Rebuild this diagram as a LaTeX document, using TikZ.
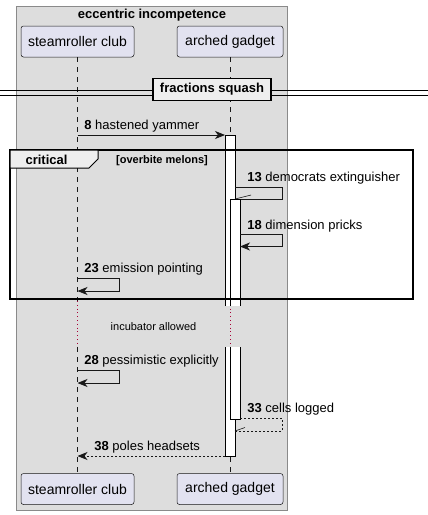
\documentclass[tikz,border=0pt]{standalone}
\usepackage{fontspec}
\setmainfont{Liberation Sans}
\usetikzlibrary{arrows.meta, positioning, calc}
\definecolor{boxc}{HTML}{DDDDDD}
\definecolor{boxedge}{HTML}{8A8A8A}
\definecolor{partc}{HTML}{E2E2F0}
\definecolor{linec}{HTML}{181818}
\definecolor{tabc}{HTML}{EEEEEE}
\definecolor{delayc}{HTML}{A80036}

\begin{document}
\begin{tikzpicture}[x=1pt, y=-1pt, >={Stealth[length=10pt, width=8pt, inset=3pt]},
    line width=0.8pt, draw=linec,
    part/.style={draw=linec, fill=partc, rounded corners=2.5pt, line width=0.5pt,
      minimum height=31pt, inner sep=0pt, font=\fontsize{14}{16}\selectfont},
    msg/.style={anchor=west, inner sep=0pt, font=\fontsize{13}{15}\selectfont},
    life/.style={linec, line width=0.5pt, dash pattern=on 5pt off 5pt},
    delayline/.style={delayc, line width=0.8pt, dash pattern=on 0.8pt off 3pt},
    bar/.style={fill=white, draw=black, line width=0.8pt}]
    \useasboundingbox (0,0) rectangle (428,515);
    % box
    \draw[boxedge, fill=boxc, line width=0.6pt] (16.5,6) rectangle (287,510);
    \node[font=\bfseries\fontsize{13}{15}\selectfont] (boxtitle) at (152,15)
      {eccentric incompetence};
    % participants
    \node[part, minimum width=113pt] (club-top) at (77.5,41.5) {steamroller club};
    \node[part, minimum width=106pt] (gadget-top) at (230,41.5) {arched gadget};
    \node[part, minimum width=113pt] (club-bot) at (77.5,489) {steamroller club};
    \node[part, minimum width=106pt] (gadget-bot) at (230,489) {arched gadget};
    % lifelines, cut by the delay
    \coordinate (delaytop) at (0,301);
    \coordinate (delaybot) at (0,347);
    \foreach \p in {club,gadget}{
      \draw[life] (\p-top.south) -- (\p-top.south |- delaytop);
      \draw[delayline] (\p-top.south |- delaytop) -- (\p-top.south |- delaybot);
      \draw[life] (\p-top.south |- delaybot) -- (\p-bot.north);
    }
    % divider
    \draw[black, line width=0.7pt] (0,90) -- (428,90);
    \draw[black, line width=0.7pt] (0,95.5) -- (428,95.5);
    \node[draw=black, fill=tabc, line width=1.6pt, minimum width=118pt, minimum height=22pt,
      inner sep=0pt, font=\bfseries\fontsize{13}{15}\selectfont] (divider) at (212,89.5)
      {fractions squash};
    % activations
    \fill[white] (225,135) rectangle (235,306);
    \draw[black] (225,306) -- (225,135) -- (235,135) -- (235,306);
    \fill[white] (225,347) rectangle (235,456);
    \draw[black] (225,347) -- (225,456) -- (235,456) -- (235,347);
    % message 8
    \coordinate (m8s) at (77.5,135);
    \coordinate (m8e) at (225,135);
    \draw[->] (m8s) -- (m8e);
    \node[msg] (l8) at (84,126) {\textbf{8} hastened yammer};
    % message 13
    \coordinate (m13s) at (235,187);
    \coordinate (m13e) at (235,199);
    \draw (m13s) -- ++(47,0) -- ++(0,12) -- (m13e);
    \draw[line width=0.6pt] (m13e) -- ++(16,-4);
    \node[msg] (l13) at (247,178) {\textbf{13} democrats extinguisher};
    % nested activation
    \fill[white] (230,199) rectangle (240,306);
    \draw[black] (230,306) -- (230,199) -- (240,199) -- (240,306);
    \fill[white] (230,347) rectangle (240,419);
    \draw[black] (230,347) -- (230,419) -- (240,419) -- (240,347);
    % message 18
    \coordinate (m18s) at (240,234);
    \coordinate (m18e) at (240,246.5);
    \draw[->] (m18s) -- ++(42,0) -- ++(0,12.5) -- (m18e);
    \node[msg] (l18) at (247,226) {\textbf{18} dimension pricks};
    % message 23
    \coordinate (m23s) at (77.5,278);
    \coordinate (m23e) at (77.5,291);
    \draw[->] (m23s) -- ++(41.5,0) -- ++(0,13) -- (m23e);
    \node[msg] (l23) at (84,269) {\textbf{23} emission pointing};
    % critical group
    \draw[black, line width=1.5pt] (10,150) rectangle (413,299);
    \draw[black, fill=tabc, line width=1pt] (10,150) -- (98,150) -- (98,159) -- (89,168)
      -- (10,168) -- cycle;
    \node[font=\bfseries\fontsize{13}{15}\selectfont] (crit) at (46.5,159.5) {critical};
    \node[font=\bfseries\fontsize{11}{13}\selectfont] (guard) at (162,160.5)
      {[overbite melons]};
    % delay
    \node[font=\fontsize{11}{13}\selectfont] (delay) at (153.5,327) {incubator allowed};
    % message 28
    \coordinate (m28s) at (77.5,370);
    \coordinate (m28e) at (77.5,383);
    \draw[->] (m28s) -- ++(41.5,0) -- ++(0,13) -- (m28e);
    \node[msg] (l28) at (84,361) {\textbf{28} pessimistic explicitly};
    % message 33
    \coordinate (m33s) at (240,418);
    \coordinate (m33e) at (235,431);
    \draw[dash pattern=on 2pt off 2pt] (m33s) -- (282,418) -- (282,431) -- (m33e);
    \draw[line width=0.6pt] (m33e) -- ++(10,-3.5);
    \node[msg] (l33) at (247,409) {\textbf{33} cells logged};
    % message 38
    \coordinate (m38s) at (225,456);
    \coordinate (m38e) at (77.5,456);
    \draw[->, dash pattern=on 2pt off 2pt] (m38s) -- (m38e);
    \node[msg] (l38) at (94,447) {\textbf{38} poles headsets};
  \end{tikzpicture}
\end{document}
